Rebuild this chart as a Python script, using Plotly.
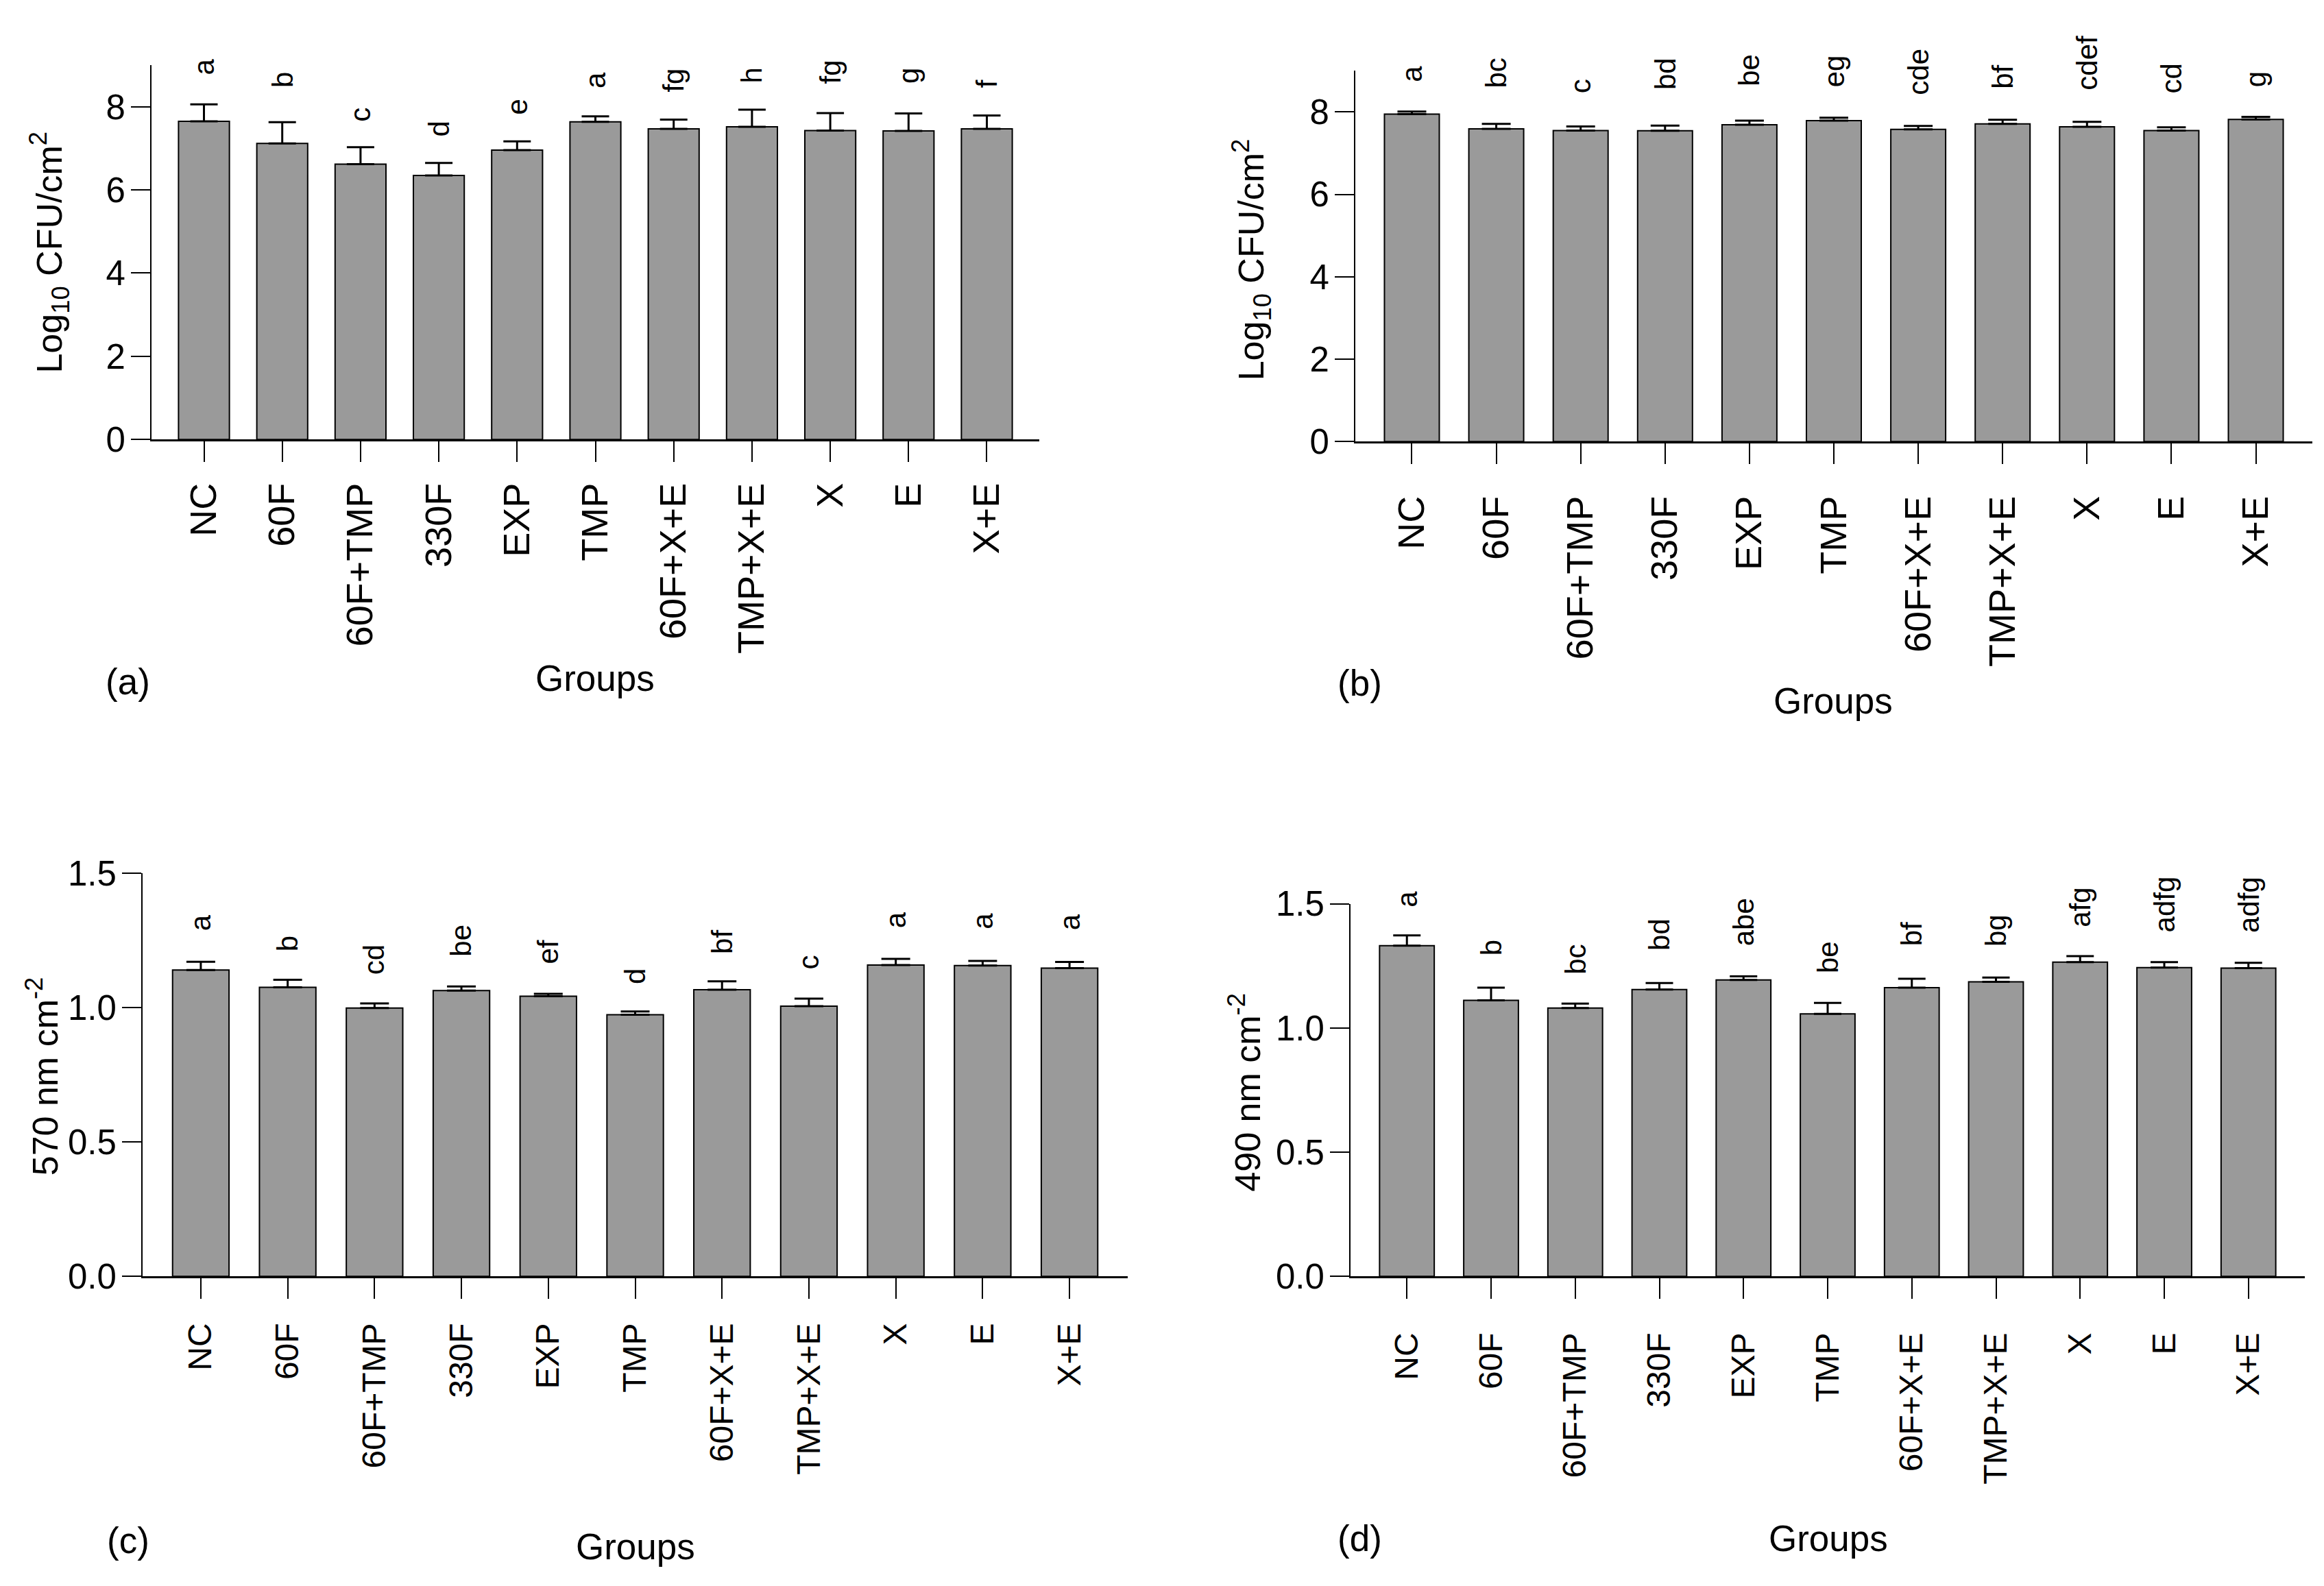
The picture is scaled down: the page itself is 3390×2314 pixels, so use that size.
import plotly.graph_objects as go

groups = ["NC", "60F", "60F+TMP", "330F", "EXP", "TMP", "60F+X+E", "TMP+X+E", "X", "E", "X+E"]

# Panel (a): Log10 CFU/cm2
mean_a = [7.65, 7.12, 6.62, 6.35, 6.96, 7.64, 7.47, 7.52, 7.43, 7.42, 7.47]
err_a = [0.41, 0.51, 0.41, 0.30, 0.21, 0.13, 0.22, 0.41, 0.42, 0.42, 0.32]
let_a = ["a", "b", "c", "d", "e", "a", "fg", "h", "fg", "g", "f"]
lety_a = [8.72, 8.43, 7.61, 7.24, 7.77, 8.40, 8.32, 8.54, 8.51, 8.52, 8.43]

# Panel (b): Log10 CFU/cm2
mean_b = [7.95, 7.59, 7.55, 7.545, 7.69, 7.79, 7.58, 7.71, 7.64, 7.55, 7.82]
err_b = [0.06, 0.12, 0.10, 0.125, 0.10, 0.07, 0.08, 0.10, 0.12, 0.08, 0.06]
let_b = ["a", "bc", "c", "bd", "be", "eg", "cde", "bf", "cdef", "cd", "g"]
lety_b = [8.70, 8.54, 8.42, 8.51, 8.60, 8.56, 8.38, 8.52, 8.50, 8.42, 8.57]

# Panel (c): 570 nm cm-2
mean_c = [1.139, 1.075, 0.998, 1.063, 1.042, 0.973, 1.066, 1.005, 1.158, 1.156, 1.146]
err_c = [0.031, 0.028, 0.017, 0.015, 0.009, 0.012, 0.031, 0.028, 0.023, 0.017, 0.023]
let_c = ["a", "b", "cd", "be", "ef", "d", "bf", "c", "a", "a", "a"]
lety_c = [1.279, 1.203, 1.117, 1.183, 1.157, 1.081, 1.193, 1.137, 1.289, 1.287, 1.282]

# Panel (d): 490 nm cm-2
mean_d = [1.331, 1.111, 1.080, 1.155, 1.193, 1.057, 1.162, 1.186, 1.265, 1.243, 1.241]
err_d = [0.042, 0.051, 0.018, 0.026, 0.015, 0.044, 0.036, 0.017, 0.024, 0.022, 0.021]
let_d = ["a", "b", "bc", "bd", "abe", "be", "bf", "bg", "afg", "adfg", "adfg"]
lety_d = [1.481, 1.287, 1.209, 1.306, 1.325, 1.213, 1.325, 1.322, 1.401, 1.379, 1.377]

W, H = 3390, 2314
FONT = "Arial, Liberation Sans, sans-serif"

def px_x(v):
    return v / W

def px_y(v):
    return 1 - v / H

panels = [
    dict(mean=mean_a, err=err_a, let=let_a, lety=lety_a, xd=[213, 1508], yd=[60.6, 620.5],
         yr=[0, 9], dt=2, fmt="d", ytitle="Log<sub>10</sub> CFU/cm<sup>2</sup>",
         yt_pos=(64, 341), grp_pos=(860, 978), lab="(a)", lab_pos=(178, 983),
         catfont=54, standoff=9, cap=20),
    dict(mean=mean_b, err=err_b, let=let_b, lety=lety_b, xd=[1969, 3365], yd=[69, 623.6],
         yr=[0, 9], dt=2, fmt="d", ytitle="Log<sub>10</sub> CFU/cm<sup>2</sup>",
         yt_pos=(1818, 352), grp_pos=(2666, 1011), lab="(b)", lab_pos=(1975, 985),
         catfont=54, standoff=25, cap=21),
    dict(mean=mean_c, err=err_c, let=let_c, lety=lety_c, xd=[200, 1637], yd=[1269, 1872.3],
         yr=[0, 1.5], dt=0.5, fmt=".1f", ytitle="570 nm cm<sup>-2</sup>",
         yt_pos=(54, 1573), grp_pos=(919, 2277), lab="(c)", lab_pos=(179, 2267),
         catfont=48, standoff=16, cap=21),
    dict(mean=mean_d, err=err_d, let=let_d, lety=lety_d, xd=[1962, 3354], yd=[1315, 1872.3],
         yr=[0, 1.5], dt=0.5, fmt=".1f", ytitle="490 nm cm<sup>-2</sup>",
         yt_pos=(1808, 1597), grp_pos=(2659, 2264), lab="(d)", lab_pos=(1975, 2264),
         catfont=48, standoff=30, cap=20),
]

fig = go.Figure()
annotations = []
layout = {}

for i, p in enumerate(panels, start=1):
    xa = "x" if i == 1 else f"x{i}"
    ya = "y" if i == 1 else f"y{i}"
    fig.add_trace(go.Bar(
        x=groups, y=p["mean"], xaxis=xa, yaxis=ya, width=0.65,
        marker=dict(color="#9a9a9a", line=dict(color="black", width=2)),
        error_y=dict(type="data", array=p["err"], arrayminus=[0] * len(groups),
                     symmetric=False, color="black", thickness=3, width=p["cap"]),
        showlegend=False, hoverinfo="skip",
    ))
    xkey = "xaxis" if i == 1 else f"xaxis{i}"
    ykey = "yaxis" if i == 1 else f"yaxis{i}"
    layout[xkey] = dict(
        domain=[px_x(p["xd"][0]), px_x(p["xd"][1])], anchor=ya,
        type="category", categoryorder="array", categoryarray=groups,
        range=[-0.67, 10.67], showline=True, linecolor="black", linewidth=3,
        ticks="outside", ticklen=30, tickwidth=2, tickcolor="black",
        tickangle=-90, tickfont=dict(family=FONT, size=p["catfont"], color="black"),
        ticklabelstandoff=p["standoff"], showgrid=False, zeroline=False, fixedrange=True,
    )
    layout[ykey] = dict(
        domain=[px_y(p["yd"][1]), px_y(p["yd"][0])], anchor=xa,
        range=p["yr"], dtick=p["dt"], tick0=0, tickformat=p["fmt"],
        showline=True, linecolor="black", linewidth=2,
        ticks="outside", ticklen=28, tickwidth=2, tickcolor="black",
        tickfont=dict(family=FONT, size=51, color="black"),
        ticklabelstandoff=-2,
        showgrid=False, zeroline=False, fixedrange=True,
    )
    for g, t, yv in zip(groups, p["let"], p["lety"]):
        annotations.append(dict(
            x=g, y=yv, xref=xa, yref=ya, text=t, showarrow=False,
            textangle=-90, xanchor="center", yanchor="bottom",
            font=dict(family=FONT, size=42, color="black"),
        ))
    annotations.append(dict(
        x=px_x(p["yt_pos"][0]), y=px_y(p["yt_pos"][1]), xref="paper", yref="paper",
        text=p["ytitle"], showarrow=False, textangle=-90,
        xanchor="center", yanchor="middle",
        font=dict(family=FONT, size=52, color="black"),
    ))
    annotations.append(dict(
        x=px_x(p["grp_pos"][0]), y=px_y(p["grp_pos"][1]), xref="paper", yref="paper",
        text="Groups", showarrow=False, xanchor="center", yanchor="middle",
        font=dict(family=FONT, size=53, color="black"),
    ))
    annotations.append(dict(
        x=px_x(p["lab_pos"][0]), y=px_y(p["lab_pos"][1]), xref="paper", yref="paper",
        text=p["lab"], showarrow=False, xanchor="center", yanchor="middle",
        font=dict(family=FONT, size=53, color="black"),
    ))

fig.update_layout(
    width=W, height=H, autosize=False,
    margin=dict(l=0, r=0, t=0, b=0),
    paper_bgcolor="white", plot_bgcolor="white",
    showlegend=False, annotations=annotations, bargap=0.35,
    **layout,
)

fig.write_html("out.html")
